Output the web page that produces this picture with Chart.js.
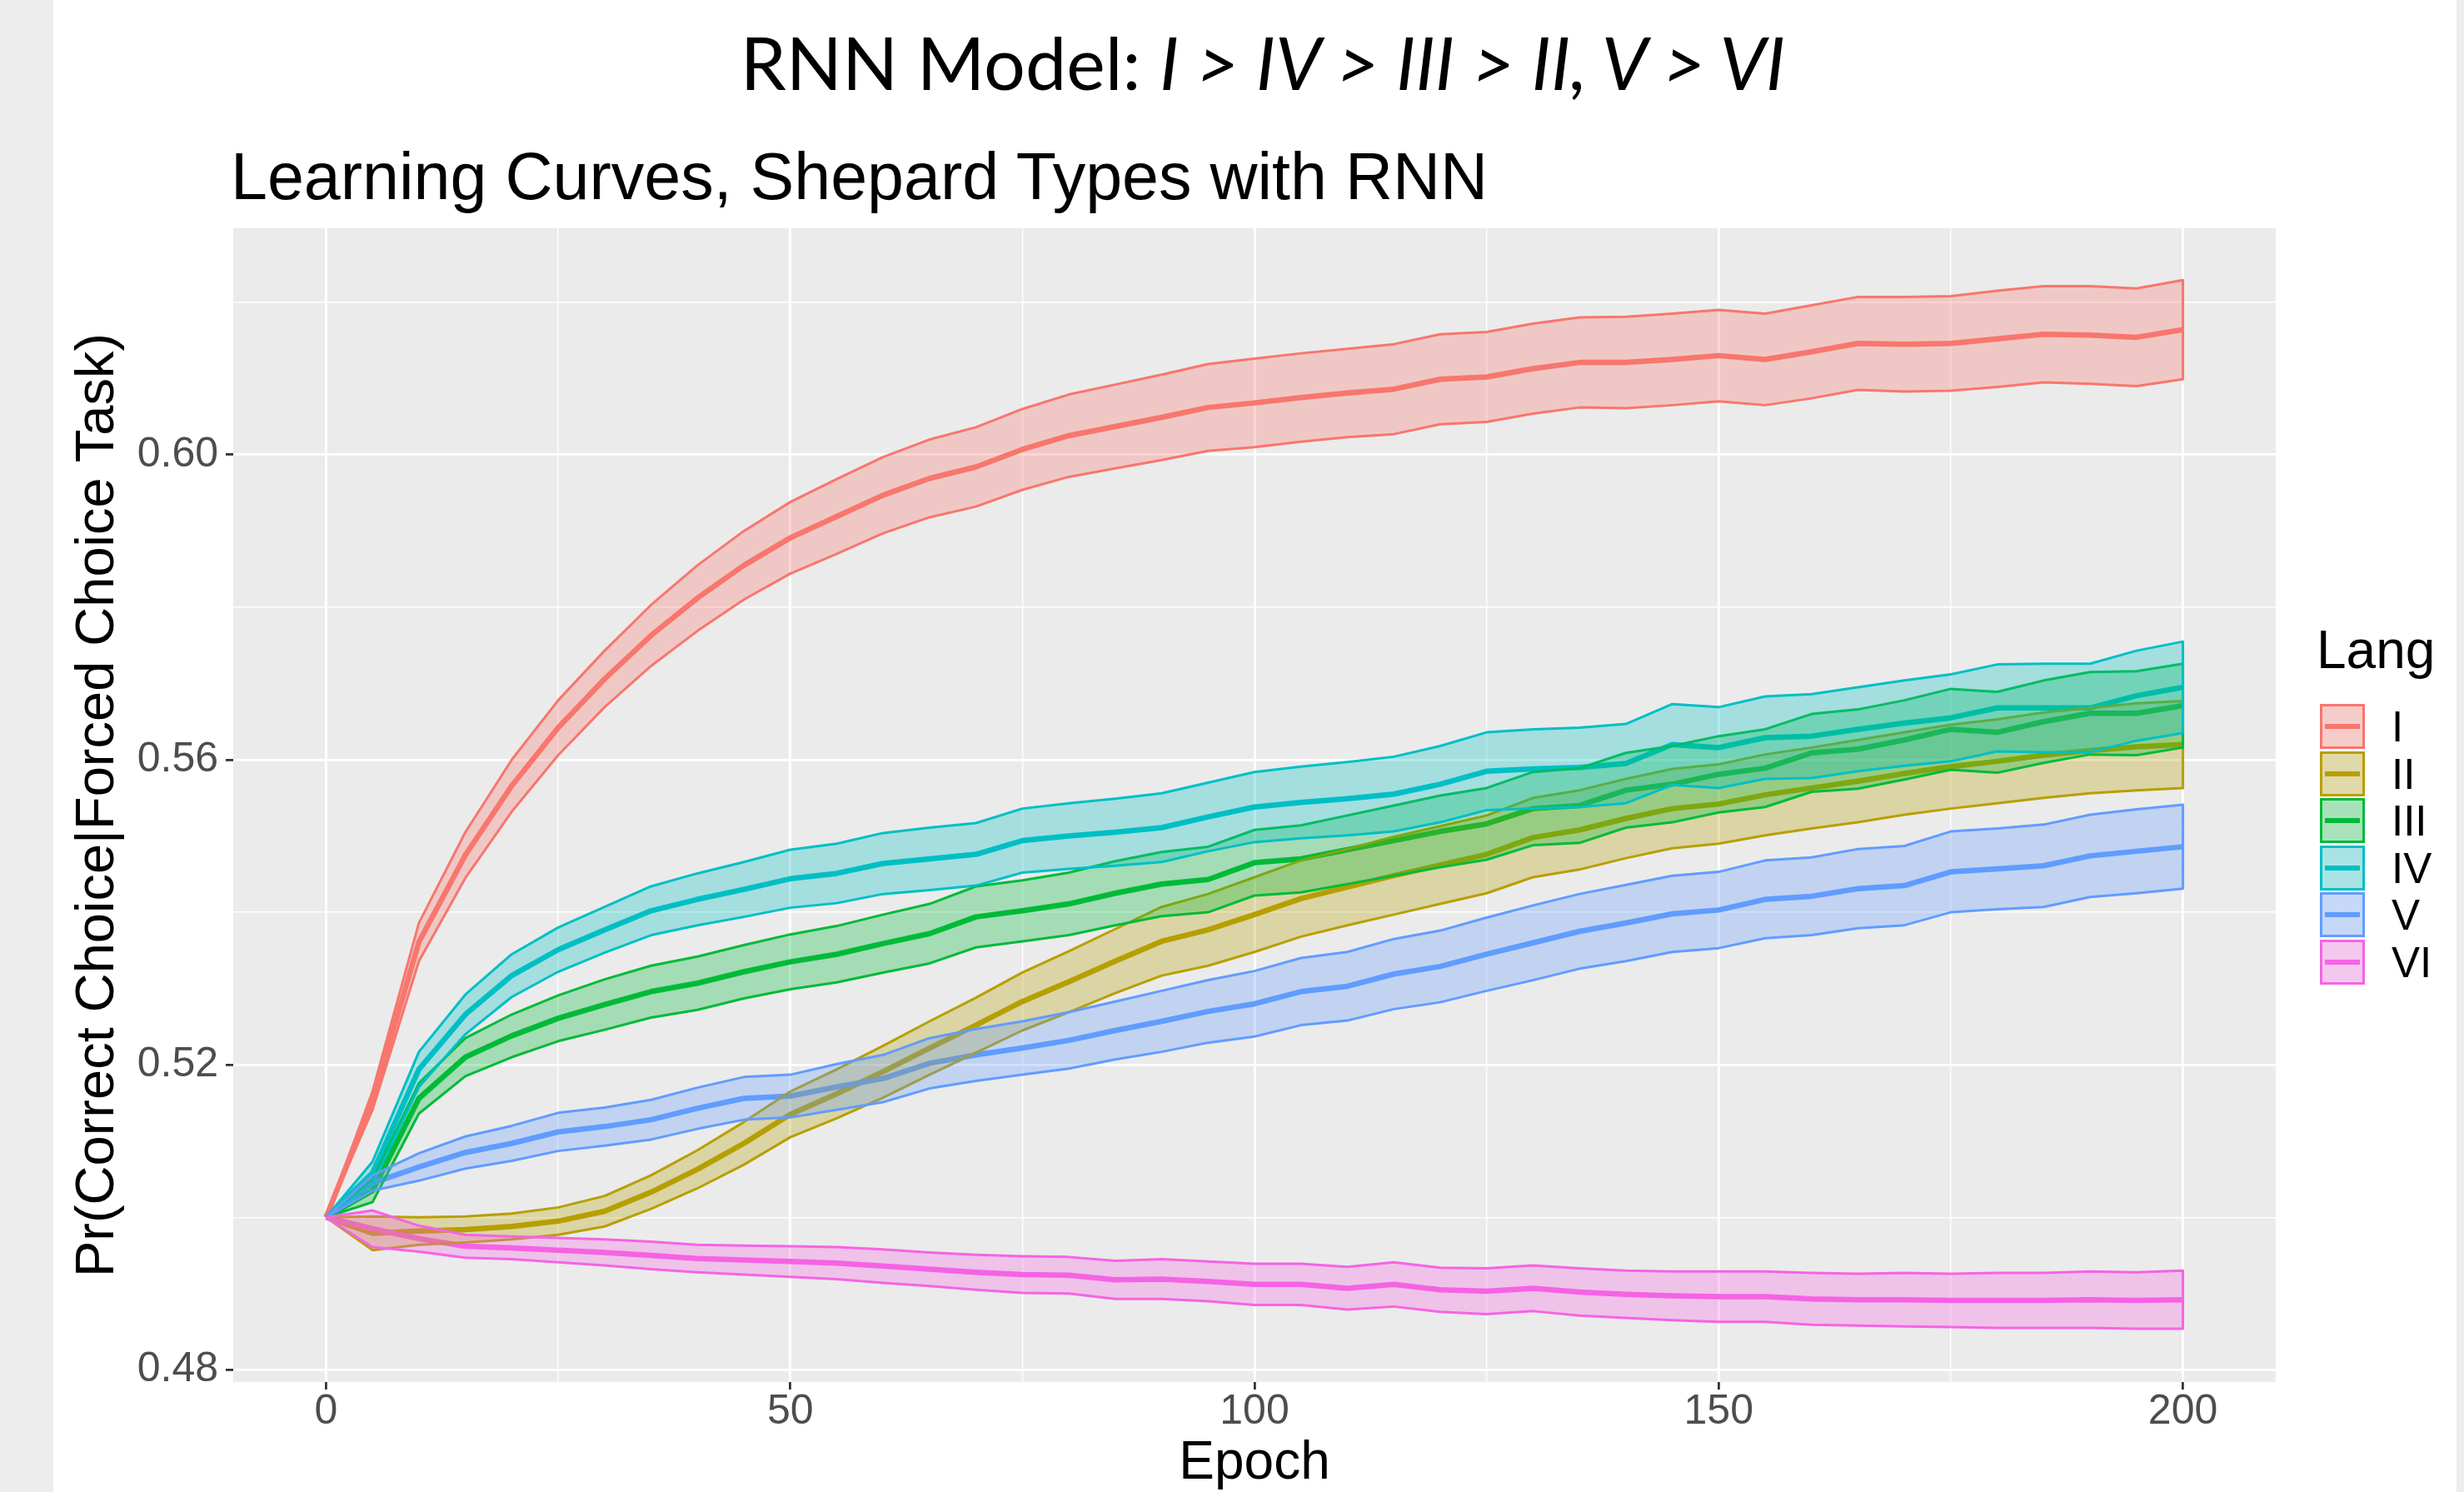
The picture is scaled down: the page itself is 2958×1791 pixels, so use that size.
<!DOCTYPE html>
<html>
<head>
<meta charset="utf-8">
<script src="https://cdn.jsdelivr.net/npm/chart.js@4.4.0/dist/chart.umd.min.js"></script>
<style>
  html, body { margin: 0; padding: 0; background: #ededed; overflow: hidden; }
  #page { position: absolute; left: 64px; top: 0; width: 2885px; height: 1791px; background: #ffffff; }
  #chart { position: absolute; left: 0; top: 0; }
  .txt { position: absolute; white-space: nowrap; color: #000; line-height: 1; }
  #main { left: 516px; width: 2000px; top: 30px; text-align: center; font-family: "Lato", "Liberation Sans", sans-serif; font-size: 88px; }
  #sub { left: 277px; top: 172px; font-family: "Liberation Sans", Arial, sans-serif; font-size: 79px; }
  #legTitle { left: 2781px; top: 748px; font-family: "Liberation Sans", Arial, sans-serif; font-size: 64px; }
  .key { position: absolute; width: 54px; height: 54px; box-sizing: border-box; border: 3px solid; }
  .keyLine { position: absolute; left: 3px; right: 3px; top: 21px; height: 6px; }
  .lab { position: absolute; font-family: "Liberation Sans", Arial, sans-serif; font-size: 51px; line-height: 1; color: #000; }
</style>
</head>
<body>
<div id="page"></div>
<canvas id="chart" width="2958" height="1791"></canvas>
<div class="txt" id="main">RNN Model: <i>I &gt; IV &gt; III &gt; II, V &gt; VI</i></div>
<div class="txt" id="sub">Learning Curves, Shepard Types with RNN</div>
<div class="txt" id="legTitle">Lang</div>
<div id="legend"></div>
<script>
// epochs, every 5
var epochs = [0, 5, 10, 15, 20, 25, 30, 35, 40, 45, 50, 55, 60, 65, 70, 75, 80, 85, 90, 95, 100,
              105, 110, 115, 120, 125, 130, 135, 140, 145, 150, 155, 160, 165, 170, 175, 180, 185, 190, 195, 200];

var langs  = ['I', 'II', 'III', 'IV', 'V', 'VI'];
var colors = ['#F8766D', '#B79F00', '#00BA38', '#00BFC4', '#619CFF', '#F564E3'];

// mean curves
var meanI   = [0.5000, 0.5153, 0.5361, 0.5475, 0.5566, 0.5642, 0.5706, 0.5763, 0.5812, 0.5855, 0.5891, 0.5919, 0.5947, 0.5969, 0.5984, 0.6007, 0.6025, 0.6037, 0.6049, 0.6062, 0.6068, 0.6075, 0.6081, 0.6086, 0.6099, 0.6102, 0.6113, 0.6121, 0.6121, 0.6125, 0.6130, 0.6125, 0.6135, 0.6146, 0.6145, 0.6146, 0.6152, 0.6158, 0.6157, 0.6154, 0.6164];
var meanII  = [0.5000, 0.4979, 0.4982, 0.4984, 0.4988, 0.4995, 0.5008, 0.5033, 0.5063, 0.5097, 0.5135, 0.5162, 0.5191, 0.5222, 0.5252, 0.5283, 0.5309, 0.5336, 0.5362, 0.5377, 0.5397, 0.5418, 0.5433, 0.5448, 0.5462, 0.5476, 0.5498, 0.5508, 0.5523, 0.5536, 0.5542, 0.5554, 0.5563, 0.5572, 0.5582, 0.5591, 0.5598, 0.5606, 0.5612, 0.5617, 0.5620];
var meanIII = [0.5000, 0.5035, 0.5156, 0.5210, 0.5238, 0.5261, 0.5279, 0.5296, 0.5307, 0.5322, 0.5335, 0.5345, 0.5359, 0.5372, 0.5394, 0.5402, 0.5411, 0.5425, 0.5437, 0.5443, 0.5465, 0.5470, 0.5482, 0.5494, 0.5506, 0.5516, 0.5536, 0.5540, 0.5560, 0.5568, 0.5581, 0.5589, 0.5609, 0.5614, 0.5626, 0.5640, 0.5636, 0.5650, 0.5661, 0.5661, 0.5671];
var meanIV  = [0.5000, 0.5058, 0.5194, 0.5266, 0.5317, 0.5351, 0.5377, 0.5402, 0.5417, 0.5430, 0.5444, 0.5451, 0.5464, 0.5470, 0.5476, 0.5494, 0.5500, 0.5505, 0.5511, 0.5525, 0.5538, 0.5544, 0.5549, 0.5555, 0.5568, 0.5585, 0.5588, 0.5590, 0.5595, 0.5620, 0.5616, 0.5629, 0.5631, 0.5640, 0.5648, 0.5655, 0.5668, 0.5668, 0.5668, 0.5684, 0.5695];
var meanV   = [0.5000, 0.5045, 0.5066, 0.5085, 0.5097, 0.5112, 0.5119, 0.5128, 0.5143, 0.5156, 0.5159, 0.5171, 0.5182, 0.5202, 0.5213, 0.5222, 0.5232, 0.5245, 0.5257, 0.5270, 0.5280, 0.5296, 0.5303, 0.5319, 0.5329, 0.5345, 0.5360, 0.5375, 0.5386, 0.5398, 0.5403, 0.5417, 0.5421, 0.5431, 0.5435, 0.5453, 0.5457, 0.5461, 0.5474, 0.5480, 0.5486];
var meanVI  = [0.5000, 0.4985, 0.4972, 0.4962, 0.4960, 0.4957, 0.4954, 0.4950, 0.4946, 0.4944, 0.4942, 0.4940, 0.4936, 0.4932, 0.4928, 0.4925, 0.4924, 0.4918, 0.4919, 0.4916, 0.4912, 0.4912, 0.4907, 0.4912, 0.4905, 0.4903, 0.4907, 0.4902, 0.4899, 0.4897, 0.4896, 0.4896, 0.4893, 0.4892, 0.4892, 0.4891, 0.4891, 0.4891, 0.4892, 0.4891, 0.4892];

// half width of the ribbons
var ciI   = [0, .0012, .0025, .0030, .0034, .0036, .0037, .0040, .0043, .0045, .0047, .0049, .0050, .0051, .0052, .0053, .0054, .0055, .0056, .0057, .0058, .0058, .0058, .0059, .0059, .0059, .0059, .0059, .0060, .0060, .0060, .0060, .0061, .0061, .0062, .0062, .0063, .0063, .0064, .0064, .0065];
var ciII  = [0, .0022, .0018, .0017, .0017, .0018, .0020, .0022, .0025, .0028, .0030, .0032, .0034, .0035, .0036, .0038, .0040, .0042, .0045, .0047, .0049, .0050, .0050, .0051, .0051, .0051, .0052, .0052, .0052, .0052, .0052, .0053, .0053, .0054, .0054, .0055, .0055, .0056, .0056, .0057, .0057];
var ciIII = [0, .0015, .0020, .0025, .0028, .0030, .0033, .0034, .0035, .0035, .0036, .0037, .0038, .0039, .0040, .0040, .0041, .0042, .0042, .0043, .0043, .0044, .0045, .0046, .0047, .0047, .0048, .0049, .0049, .0050, .0050, .0051, .0051, .0052, .0052, .0053, .0053, .0054, .0054, .0055, .0055];
var ciIV  = [0, .0015, .0023, .0026, .0028, .0029, .0030, .0032, .0034, .0036, .0038, .0039, .0040, .0041, .0041, .0042, .0043, .0044, .0045, .0045, .0046, .0047, .0048, .0049, .0050, .0051, .0052, .0052, .0052, .0053, .0053, .0054, .0055, .0055, .0056, .0057, .0057, .0058, .0058, .0059, .0060];
var ciV   = [0, .0010, .0018, .0021, .0023, .0025, .0025, .0026, .0027, .0028, .0028, .0030, .0031, .0033, .0034, .0035, .0037, .0038, .0040, .0041, .0043, .0044, .0045, .0046, .0047, .0048, .0049, .0049, .0050, .0050, .0050, .0051, .0051, .0052, .0052, .0053, .0053, .0054, .0054, .0055, .0055];
var ciVI  = [0, .0024, .0017, .0015, .0015, .0016, .0017, .0018, .0018, .0019, .0020, .0021, .0022, .0022, .0023, .0024, .0024, .0025, .0026, .0026, .0027, .0027, .0028, .0029, .0029, .0030, .0030, .0031, .0031, .0032, .0033, .0033, .0034, .0034, .0035, .0035, .0036, .0036, .0037, .0037, .0038];

var yTicks = [0.48, 0.52, 0.56, 0.60];
var xTicks = [0, 50, 100, 150, 200];

var means = [meanI, meanII, meanIII, meanIV, meanV, meanVI];
var cis   = [ciI, ciII, ciIII, ciIV, ciV, ciVI];

function hexA(hex, a) {
    var r = parseInt(hex.substr(1, 2), 16), g = parseInt(hex.substr(3, 2), 16), b = parseInt(hex.substr(5, 2), 16);
    return 'rgba(' + r + ',' + g + ',' + b + ',' + a + ')';
}

// ribbon as closed polygon: upper left->right, lower right->left
function ribbon(k) {
    var pts = [];
    for (var i = 0; i < epochs.length; i++) pts.push({x: epochs[i], y: means[k][i] + cis[k][i]});
    for (var j = epochs.length - 1; j >= 0; j--) pts.push({x: epochs[j], y: means[k][j] - cis[k][j]});
    pts.push(pts[0]);
    return pts;
}

// first dataset is drawn on top: ribbons VI..I, then the mean lines underneath
var datasets = [];
for (var k = langs.length - 1; k >= 0; k--) {
    datasets.push({
        label: langs[k] + ' band',
        data: ribbon(k),
        borderColor: colors[k],
        borderWidth: 3,
        backgroundColor: hexA(colors[k], 0.3),
        fill: 'shape',
        pointRadius: 0,
        borderJoinStyle: 'round',
        tension: 0
    });
}
for (var k2 = langs.length - 1; k2 >= 0; k2--) {
    datasets.push({
        label: langs[k2],
        data: epochs.map(function (e, i) { return {x: e, y: means[k2][i]}; }),
        borderColor: colors[k2],
        borderWidth: 6.5,
        fill: false,
        pointRadius: 0,
        borderJoinStyle: 'round',
        tension: 0
    });
}

var panelBg = {
    id: 'panelBg',
    beforeDraw: function (chart) {
        var a = chart.chartArea, c = chart.ctx;
        c.save();
        c.fillStyle = '#EBEBEB';
        c.fillRect(a.left, a.top, a.right - a.left, a.bottom - a.top);
        c.restore();
    }
};

function isMajor(list, v) {
    for (var i = 0; i < list.length; i++) if (Math.abs(list[i] - v) < 1e-9) return true;
    return false;
}

var ctx = document.getElementById('chart').getContext('2d');
var chart = new Chart(ctx, {
    type: 'line',
    data: { datasets: datasets },
    plugins: [panelBg],
    options: {
        responsive: false,
        animation: false,
        devicePixelRatio: 1,
        layout: { padding: { left: 64, top: 274, right: 226, bottom: 0 } },
        plugins: { legend: { display: false }, tooltip: { enabled: false } },
        scales: {
            x: {
                type: 'linear',
                min: -10,
                max: 210,
                afterBuildTicks: function (s) {
                    s.ticks = [0, 25, 50, 75, 100, 125, 150, 175, 200].map(function (v) { return {value: v}; });
                },
                afterFit: function (s) { s.height = 132; },
                border: { display: false },
                grid: {
                    color: '#FFFFFF',
                    lineWidth: function (c) { return isMajor(xTicks, c.tick.value) ? 2.8 : 1.4; },
                    tickColor: function (c) { return isMajor(xTicks, c.tick.value) ? '#333333' : 'rgba(0,0,0,0)'; },
                    tickWidth: 2.8,
                    tickLength: 9
                },
                ticks: {
                    autoSkip: false,
                    maxRotation: 0,
                    padding: 2,
                    color: '#4D4D4D',
                    font: { family: 'Liberation Sans', size: 50, lineHeight: 1 },
                    callback: function (v) { return isMajor(xTicks, v) ? String(v) : ''; }
                },
                title: {
                    display: true,
                    text: 'Epoch',
                    color: '#000000',
                    font: { family: 'Liberation Sans', size: 64, lineHeight: 1 },
                    padding: { top: 0, bottom: 2 }
                }
            },
            y: {
                type: 'linear',
                min: 0.4784,
                max: 0.6297,
                afterBuildTicks: function (s) {
                    s.ticks = [0.48, 0.50, 0.52, 0.54, 0.56, 0.58, 0.60, 0.62].map(function (v) { return {value: v}; });
                },
                afterFit: function (s) { s.width = 216; },
                border: { display: false },
                grid: {
                    color: '#FFFFFF',
                    lineWidth: function (c) { return isMajor(yTicks, c.tick.value) ? 2.8 : 1.4; },
                    tickColor: function (c) { return isMajor(yTicks, c.tick.value) ? '#333333' : 'rgba(0,0,0,0)'; },
                    tickWidth: 2.8,
                    tickLength: 9
                },
                ticks: {
                    autoSkip: false,
                    padding: 9,
                    color: '#4D4D4D',
                    font: { family: 'Liberation Sans', size: 50, lineHeight: 1 },
                    callback: function (v) { return isMajor(yTicks, v) ? v.toFixed(2) : ''; }
                },
                title: {
                    display: true,
                    text: 'Pr(Correct Choice|Forced Choice Task)',
                    color: '#000000',
                    font: { family: 'Liberation Sans', size: 65, lineHeight: 1 },
                    padding: { top: 22, bottom: 0 }
                }
            }
        }
    }
});

// legend keys (ggplot style boxes)
var leg = document.getElementById('legend');
for (var n = 0; n < langs.length; n++) {
    var keyTop = 845 + n * 56.5;
    var key = document.createElement('div');
    key.className = 'key';
    key.style.left = '2785px';
    key.style.top = keyTop + 'px';
    key.style.borderColor = colors[n];
    key.style.background = 'linear-gradient(' + hexA(colors[n], 0.3) + ',' + hexA(colors[n], 0.3) + '), #F2F2F2';
    var ln = document.createElement('div');
    ln.className = 'keyLine';
    ln.style.background = colors[n];
    key.appendChild(ln);
    leg.appendChild(key);
    var lab = document.createElement('div');
    lab.className = 'lab';
    lab.style.left = '2871px';
    lab.style.top = (keyTop + 27 - 25) + 'px';
    lab.textContent = langs[n];
    leg.appendChild(lab);
}
</script>
</body>
</html>
